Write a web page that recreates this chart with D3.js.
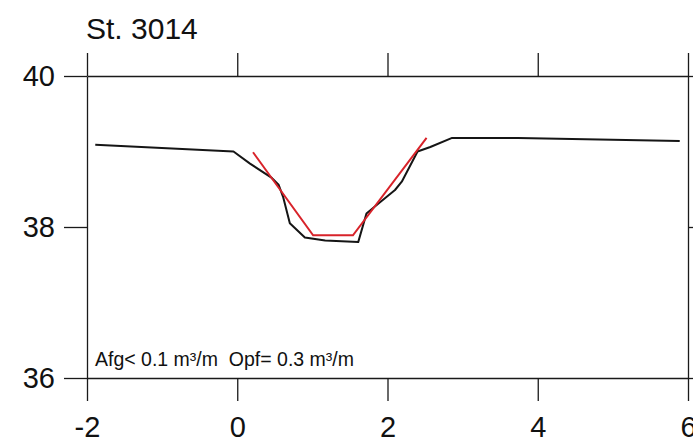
<!DOCTYPE html>
<html>
<head>
<meta charset="utf-8">
<script src="https://cdn.jsdelivr.net/npm/d3@7"></script>
<style>
  body { margin: 0; background: #fff; }
  svg { display: block; font-family: "Liberation Sans", Arial, Helvetica, sans-serif; }
  .axis path, .axis line { stroke: #1a1a1a; stroke-width: 1.3; }
  .axis text { fill: #111; font-size: 29px; }
  .note { white-space: pre; }
</style>
</head>
<body>
<svg id="chart" width="693" height="443"></svg>
<script>
'use strict'

// station profile (distance vs level)
const profileX = [-1.89, -0.05, 0.17, 0.46, 0.55, 0.61, 0.70, 0.90, 1.17, 1.61, 1.72, 1.88, 2.10, 2.19, 2.40, 2.57, 2.86, 3.74, 5.89]
const profileY = [39.09, 39.00, 38.84, 38.65, 38.56, 38.40, 38.05, 37.86, 37.82, 37.80, 38.18, 38.31, 38.49, 38.60, 39.00, 39.06, 39.18, 39.18, 39.14]

// fitted (red) profile
const fitX = [0.21, 1.01, 1.54, 2.52]
const fitY = [38.99, 37.89, 37.89, 39.18]

const xTicks = [-2, 0, 2, 4, 6]
const yTicks = [36, 38, 40]
const title = 'St. 3014'
const note = 'Afg< 0.1 m³/m  Opf= 0.3 m³/m'

const margin = {top: 76, left: 87}
const width = 601, height = 302
const tick = 23

const svg = d3.select('#chart')
const g = svg.append('g').attr('transform', `translate(${margin.left},${margin.top})`)

const x = d3.scaleLinear().domain([-2, 6]).range([0, width])
const y = d3.scaleLinear().domain([36, 40]).range([height, 0])

const plain = d => String(d) // keep a plain hyphen for negatives

// frame with outward ticks on all four sides
g.append('g').attr('class', 'axis')
  .attr('transform', `translate(0,${height})`)
  .call(d3.axisBottom(x).tickValues(xTicks).tickSize(tick).tickSizeOuter(0).tickPadding(15).tickFormat(plain))
g.append('g').attr('class', 'axis')
  .call(d3.axisTop(x).tickValues(xTicks).tickSize(tick).tickSizeOuter(0).tickFormat(''))
g.append('g').attr('class', 'axis')
  .call(d3.axisLeft(y).tickValues(yTicks).tickSize(tick).tickSizeOuter(0).tickPadding(9).tickFormat(plain))
g.append('g').attr('class', 'axis')
  .attr('transform', `translate(${width},0)`)
  .call(d3.axisRight(y).tickValues(yTicks).tickSize(tick).tickSizeOuter(0).tickFormat(''))
g.selectAll('.axis .domain').attr('fill', 'none')
g.selectAll('.axis text').attr('font-family', null).attr('font-size', null)

const line = d3.line().x(d => x(d[0])).y(d => y(d[1]))

g.append('path')
  .datum(d3.zip(profileX, profileY))
  .attr('d', line)
  .attr('fill', 'none')
  .attr('stroke', '#151515')
  .attr('stroke-width', 2)
  .attr('stroke-linejoin', 'round')

g.append('path')
  .datum(d3.zip(fitX, fitY))
  .attr('d', line)
  .attr('fill', 'none')
  .attr('stroke', '#d8232a')
  .attr('stroke-width', 2)

// title
svg.append('text')
  .attr('x', 86).attr('y', 39)
  .attr('font-size', 30)
  .attr('fill', '#111')
  .text(title)

// annotation
g.append('text')
  .attr('class', 'note')
  .attr('x', 8).attr('y', height - 12)
  .attr('font-size', 19.5)
  .attr('fill', '#111')
  .text(note)
</script>
</body>
</html>
